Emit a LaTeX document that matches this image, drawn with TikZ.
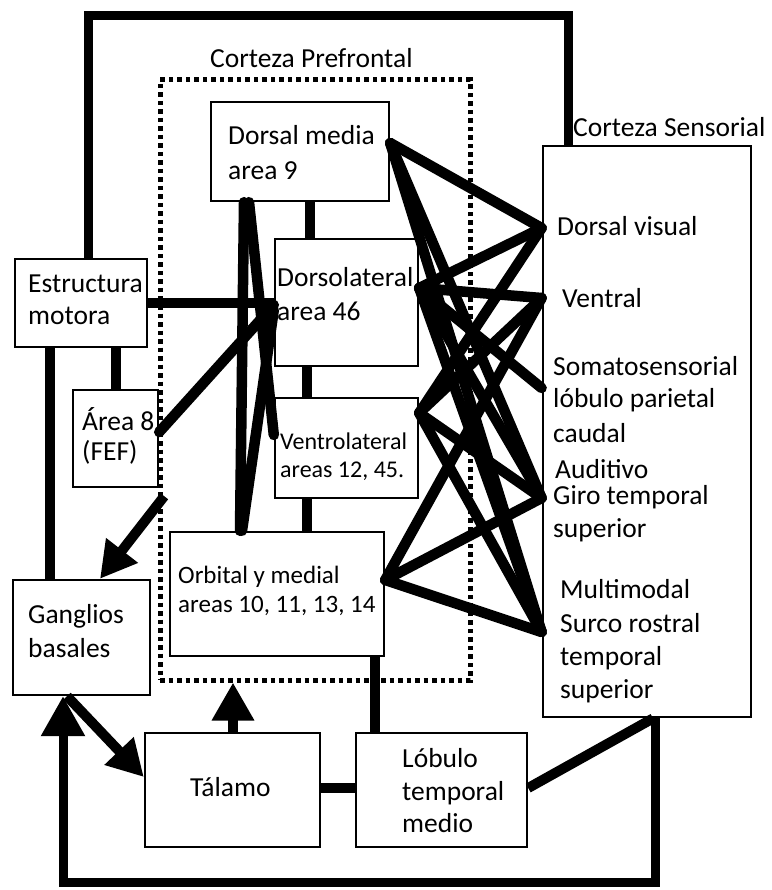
\documentclass[tikz,border=0pt]{standalone}
\usepackage{fontspec}
\setmainfont{Carlito}
\usetikzlibrary{arrows.meta}
\begin{document}
\begin{tikzpicture}[x=1pt,y=-1pt,
  box/.style={draw, line width=2.4pt, inner sep=0pt},
  lbl/.style={anchor=base west, inner sep=0pt, font=\fontsize{27.5}{33}\selectfont},
  lblsmall/.style={lbl, font=\fontsize{24}{28}\selectfont},
  lblmid/.style={lbl, font=\fontsize{25}{29}\selectfont},
  link/.style={line width=10pt},
  fan/.style={line width=10.5pt, line cap=round},
  loop/.style={line width=9pt},
  bighead/.style={-{Triangle[length=40pt,width=42pt]}},
  midhead/.style={-{Triangle[length=36pt,width=38pt]}},
]
\useasboundingbox (0,0) rectangle (771,890);

% ---------- boxes ----------
\node[draw, line width=5pt, dash pattern=on 4.5pt off 4pt,
      minimum width=310pt, minimum height=600pt, inner sep=0pt] (pfc) at (315,380) {};
\node[box, minimum width=178pt, minimum height=99pt]  (dm)  at (300,151.5) {};
\node[box, minimum width=143pt, minimum height=127pt] (dl)  at (346.5,302.5) {};
\node[box, minimum width=143pt, minimum height=100pt] (vl)  at (346.5,448) {};
\node[box, minimum width=214pt, minimum height=124pt] (orb) at (277,594) {};
\node[box, minimum width=132pt, minimum height=88pt]  (em)  at (81,303) {};
\node[box, minimum width=85pt,  minimum height=97pt]  (a8)  at (115.5,438.5) {};
\node[box, minimum width=137pt, minimum height=115pt] (gb)  at (81.5,637.5) {};
\node[box, minimum width=175pt, minimum height=114pt] (tal) at (232.5,790) {};
\node[box, minimum width=171pt, minimum height=114pt] (ltm) at (441.5,790) {};
\node[box, line width=2.8pt, minimum width=208pt, minimum height=571pt] (cs) at (647,431.5) {};

% ---------- texts ----------
\node[lbl] (t-pfc) at (210,68) {Corteza Prefrontal};
\node[lbl] (t-cs)  at (573,137) {Corteza Sensorial};
\node[lbl] (t-dm1) at (228,145) {Dorsal media};
\node[lbl] (t-dm2) at (228,180) {area 9};
\node[lbl] (t-dl1) at (277,287) {Dorsolateral};
\node[lbl] (t-dl2) at (277,320) {area 46};
\node[lblsmall] (t-vl1) at (280,449) {Ventrolateral};
\node[lblsmall] (t-vl2) at (280,477) {areas 12, 45.};
\node[lblmid] (t-or1) at (178,583) {Orbital y medial};
\node[lblmid] (t-or2) at (178,612) {areas 10, 11, 13, 14};
\node[lbl] (t-em1) at (28,292) {Estructura};
\node[lbl] (t-em2) at (28,324) {motora};
\node[lbl] (t-a81) at (82,430) {Área 8};
\node[lbl] (t-a82) at (82,460) {(FEF)};
\node[lbl] (t-gb1) at (28,623) {Ganglios};
\node[lbl] (t-gb2) at (28,657) {basales};
\node[lbl] (t-tal) at (190,796) {Tálamo};
\node[lbl] (t-lt1) at (402,767) {Lóbulo};
\node[lbl] (t-lt2) at (402,800) {temporal};
\node[lbl] (t-lt3) at (402,832) {medio};
\node[lbl] (t-dv)  at (557,236) {Dorsal visual};
\node[lbl] (t-ve)  at (562,307) {Ventral};
\node[lbl] (t-so1) at (553,375) {Somatosensorial};
\node[lbl] (t-so2) at (553,407) {lóbulo parietal};
\node[lbl] (t-so3) at (553,442) {caudal};
\node[lbl] (t-au1) at (555,478) {Auditivo};
\node[lbl] (t-au2) at (553,504) {Giro temporal};
\node[lbl] (t-au3) at (553,537) {superior};
\node[lbl] (t-mm1) at (560,598) {Multimodal};
\node[lbl] (t-mm2) at (560,632) {Surco rostral};
\node[lbl] (t-mm3) at (560,665) {temporal};
\node[lbl] (t-mm4) at (560,698) {superior};

% ---------- attachment points ----------
\coordinate (dmR) at (dm.east |- 0,143);
\coordinate (dlR) at (dl.east |- 0,288);
\coordinate (vlR) at (vl.east |- 0,413);
\coordinate (orR) at (orb.east |- 0,580);
\coordinate (sDV) at (cs.west |- 0,228);
\coordinate (sVE) at (cs.west |- 0,298);
\coordinate (sSO) at (cs.west |- 0,388);
\coordinate (sGT) at (cs.west |- 0,498);
\coordinate (sMM) at (cs.west |- 0,632);
\coordinate (tl) at (88,16);
\coordinate (bl) at (63,882);

% ---------- outer loops ----------
\draw[loop] (em.north -| tl) -- (tl) -| (cs.north -| 568,0);
\draw[loop, bighead] (cs.south -| 655,0) |- (bl) -- (gb.south -| bl);

% ---------- links inside the prefrontal cortex ----------
\draw[link] (dm.south -| 310,0) -- (dl.north -| 310,0);
\draw[link] (dl.south -| 307,0) -- (vl.north -| 307,0);
\draw[link] (vl.south -| 307,0) -- (orb.north -| 307,0);
\draw[fan] (dm.south -| 244,0) -- (orb.north -| 240,0);
\draw[fan] (dm.south -| 249,0) -- (vl.west |- 0,435);
\draw[fan] (orb.north -| 242,0) -- (dl.west |- 0,310);

% ---------- motor structure, area 8, basal ganglia ----------
\draw[link] (em.east) -- (em.east -| dl.west);
\draw[fan] (a8.east |- 0,432) -- (dl.west |- 0,305);
\draw[link] (em.south -| 50,0) -- (gb.north -| 50,0);
\draw[link] (em.south -| a8.north) -- (a8.north);
\draw[link, midhead] ([shift={(5,8)}]a8.south east) -- (gb.north -| 100,0);

% ---------- thalamus and medial temporal lobe ----------
\draw[link, midhead] (gb.south -| 67,0) -- (tal.west |- 0,777);
\draw[link, {-Triangle[length=38pt,width=40pt]}] (tal.north -| 233,0) -- (pfc.south -| 233,0);
\draw[link] (tal.east |- 0,788) -- (ltm.west |- 0,788);
\draw[link] (ltm.north -| 375,0) -- (orb.south -| 375,0);
\draw[link] (ltm.east |- 0,788) -- (cs.south -| 653,0);

% ---------- prefrontal to sensory cortex ----------
\draw[fan] (dmR) -- (sDV);
\draw[fan] (dmR) -- (sGT);
\draw[fan] (dmR) -- (sMM);
\draw[fan] (dlR) -- (sDV);
\draw[fan] (dlR) -- (sVE);
\draw[fan] (dlR) -- (sSO);
\draw[fan] (dlR) -- (sGT);
\draw[fan] (dlR) -- (sMM);
\draw[fan] (vlR) -- (sDV);
\draw[fan] (vlR) -- (sVE);
\draw[fan] (vlR) -- (sGT);
\draw[fan] (vlR) -- (sMM);
\draw[fan] (orR) -- (sVE);
\draw[fan] (orR) -- (sGT);
\draw[fan] (orR) -- (sMM);
\end{tikzpicture}
\end{document}
